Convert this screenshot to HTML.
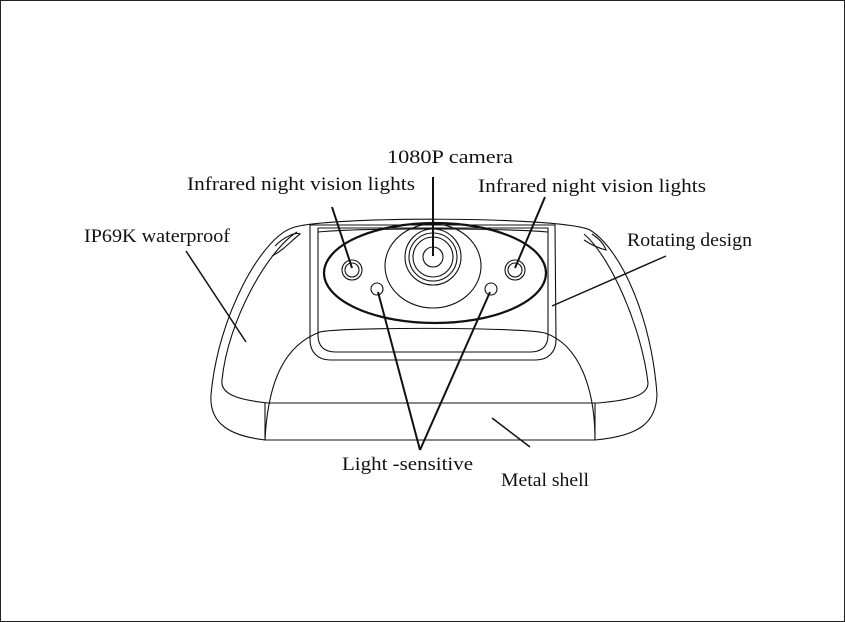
<!DOCTYPE html>
<html><head><style>
html,body{margin:0;padding:0;background:#fff}
svg{display:block}
text{font-family:"Liberation Serif",serif;font-size:19px;fill:#111}
</style></head><body>
<svg width="845" height="622" viewBox="0 0 845 622">
<rect x="0.5" y="0.5" width="844" height="621" fill="#fff" stroke="#222"/>
<g fill="none" stroke="#111" stroke-width="1.1">
<path d="M292,228 C262,238 218,315 211,395 C209,425 232,436 265,440 L595,440 C640,436 656,422 657,395 C652,320 622,250 590,230 C560,216 320,216 292,228 Z"/>
<path d="M297,232 C268,250 228,320 222,380 C220,395 240,400 268,403 L598,403 C632,400 648,395 648,383 C642,330 612,258 584,234"/>
<path d="M275,246 C285,236 296,232 300,234 C292,240 284,250 272,256"/>
<path d="M592,234 C598,238 604,244 606,250 C598,248 590,244 584,240"/>
<path d="M265,440 C268,380 285,345 320,332 C340,327 520,327 545,333 C580,345 595,390 595,440"/>
<path d="M265,403 L265,440 M595,403 L595,440"/>
<path d="M310,225 L555,225 L556,340 C556,352 548,360 536,360 L330,360 C318,360 310,352 310,340 Z"/>
<path d="M318,228 L548,228 L548,335 C548,346 542,352 530,352 L336,352 C324,352 318,346 318,335 Z"/>
<path d="M318,232 C360,228 500,228 548,232"/>
<ellipse cx="435" cy="273" rx="111" ry="50" stroke-width="2.2"/>
<ellipse cx="433" cy="266" rx="48" ry="42"/>
<circle cx="433" cy="257" r="28"/>
<circle cx="433" cy="257" r="24"/>
<circle cx="433" cy="257" r="20"/>
<circle cx="433" cy="257" r="10"/>
<circle cx="352" cy="270" r="10"/><circle cx="352" cy="270" r="7"/>
<circle cx="515" cy="270" r="10"/><circle cx="515" cy="270" r="7"/>
<circle cx="377" cy="289" r="6"/><circle cx="491" cy="289" r="6"/>
</g>
<g stroke="#111" stroke-width="2" fill="none">
<line x1="433" y1="177" x2="433" y2="256"/>
<line x1="332" y1="207" x2="352" y2="268"/>
<line x1="545" y1="197" x2="515" y2="268"/>
<line x1="420" y1="450" x2="378" y2="292"/>
<line x1="420" y1="450" x2="490" y2="292"/>
</g>
<g stroke="#111" stroke-width="1.5">
<line x1="186" y1="251" x2="246" y2="342"/>
<line x1="666" y1="256" x2="552" y2="306"/>
<line x1="492" y1="418" x2="530" y2="447"/>
</g>
<text x="387" y="163" textLength="126" lengthAdjust="spacingAndGlyphs">1080P camera</text>
<text x="187" y="190" textLength="228" lengthAdjust="spacingAndGlyphs">Infrared night vision lights</text>
<text x="478" y="192" textLength="228" lengthAdjust="spacingAndGlyphs">Infrared night vision lights</text>
<text x="84" y="242" textLength="146" lengthAdjust="spacingAndGlyphs">IP69K waterproof</text>
<text x="627" y="246" textLength="125" lengthAdjust="spacingAndGlyphs">Rotating design</text>
<text x="342" y="470" textLength="131" lengthAdjust="spacingAndGlyphs">Light -sensitive</text>
<text x="501" y="486" textLength="88" lengthAdjust="spacingAndGlyphs">Metal shell</text>
</svg>
</body></html>
